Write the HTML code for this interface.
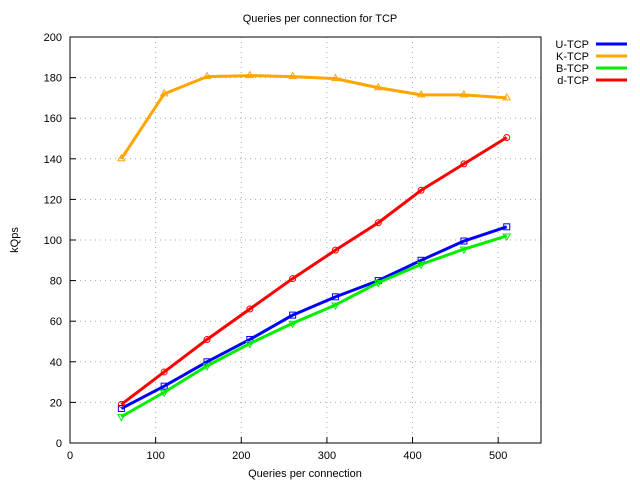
<!DOCTYPE html>
<html><head><meta charset="utf-8"><style>body{margin:0;background:#fff}svg{display:block;font-family:"Liberation Sans",sans-serif}</style></head>
<body>
<svg id="c" width="640" height="480">
<text x="320" y="22" font-size="11" text-anchor="middle">Queries per connection for TCP</text>
<text x="305" y="477" font-size="11" text-anchor="middle">Queries per connection</text>
<text x="18" y="240" font-size="11" text-anchor="middle" transform="rotate(-90 18 240)">kQps</text>
<g id="grid"></g><g id="series"></g><g id="legend"></g>
<rect x="70" y="37" width="471" height="406" fill="none" stroke="#000" stroke-width="1"/>
</svg>
<script>
const xs=[60,110,160,210,260,310,360,410,460,510];
const uTCP=[17,28,40,51,63,72,80,90,99.5,106.5];
const kTCP=[140,172,180.5,181,180.5,179.5,175,171.5,171.5,170];
const bTCP=[13,25,38,49,59,68,79,88,95.5,102];
const dTCP=[19,35,51,66,81,95,108.5,124.5,137.5,150.5];
const xTicks=[0,100,200,300,400,500];
const yTicks=[0,20,40,60,80,100,120,140,160,180,200];
const NS="http://www.w3.org/2000/svg";
const X=v=>70+v*(471/550), Y=v=>443-v*(406/200);
function mk(t,a,p){const e=document.createElementNS(NS,t);for(const k in a)e.setAttribute(k,a[k]);p.appendChild(e);return e;}
const g=document.getElementById('grid');
xTicks.forEach(t=>{
 if(t>0&&t<550){const l=mk('line',{x1:X(t),x2:X(t),y1:37,y2:443,stroke:'#aaa','stroke-dasharray':'1,4'},g);
 
 }
 mk('line',{x1:X(t),x2:X(t),y1:443,y2:437,stroke:'#000'},g);
 const tx=mk('text',{x:X(t),y:459,'font-size':11,'text-anchor':'middle'},g);tx.textContent=t;
 
 
});
yTicks.forEach(t=>{
 if(t>0&&t<200){const l=mk('line',{x1:70,x2:541,y1:Y(t),y2:Y(t),stroke:'#aaa','stroke-dasharray':'1,4'},g);
 
 }
 mk('line',{x1:70,x2:76,y1:Y(t),y2:Y(t),stroke:'#000'},g);
 const tx=mk('text',{x:62,y:Y(t)+4,'font-size':11,'text-anchor':'end'},g);tx.textContent=t;
 
 
});
const S=document.getElementById('series');
const series=[['U-TCP',uTCP,'#0000ff','sq'],['K-TCP',kTCP,'#ffa500','tri'],['B-TCP',bTCP,'#00ee00','itri'],['d-TCP',dTCP,'#ff0000','circ']];
series.forEach(([n,vals,col,m])=>{
 const gr=mk('g',{},S);
 
 
 const pl=mk('polyline',{points:vals.map((v,i)=>X(xs[i])+','+Y(v)).join(' '),fill:'none',stroke:col,'stroke-width':3,'stroke-linejoin':'round'},gr);
 
 
 vals.forEach((v,i)=>{
  const cx=X(xs[i]),cy=Y(v);let e;
  if(m==='sq')e=mk('rect',{x:cx-3,y:cy-3,width:6,height:6,fill:'none',stroke:col},gr);
  else if(m==='circ')e=mk('circle',{cx:cx,cy:cy,r:3,fill:'none',stroke:col},gr);
  else if(m==='tri')e=mk('polygon',{points:`${cx},${cy-4} ${cx-3.5},${cy+2} ${cx+3.5},${cy+2}`,fill:'none',stroke:col},gr);
  else e=mk('polygon',{points:`${cx},${cy+4} ${cx-3.5},${cy-2} ${cx+3.5},${cy-2}`,fill:'none',stroke:col},gr);
  
  
 });
});
const L=document.getElementById('legend');
series.forEach(([n,vals,col],i)=>{
 const y=44+i*12;
 const t=mk('text',{x:589,y:y+4,'font-size':11,'text-anchor':'end'},L);t.textContent=n;
 
 
 const l=mk('line',{x1:596,x2:627,y1:y,y2:y,stroke:col,'stroke-width':3},L);
 
 
});
</script>
</body></html>
